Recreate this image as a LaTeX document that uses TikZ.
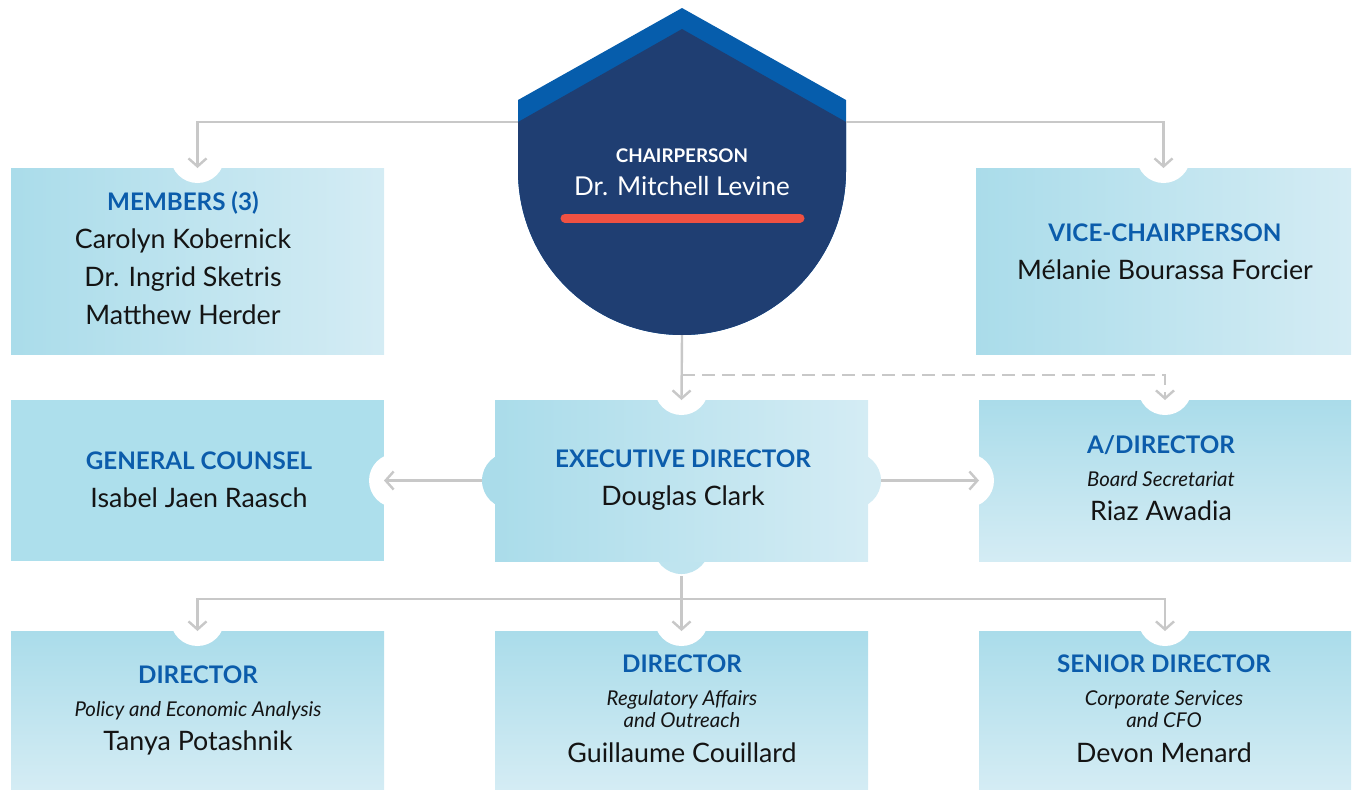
\documentclass[tikz,border=0pt]{standalone}
\usepackage{fontspec}
\setmainfont{Lato}
\usetikzlibrary{positioning, arrows.meta, calc, backgrounds}

\definecolor{boardnavy}{HTML}{1F3E72}
\definecolor{boardblue}{HTML}{065DAC}
\definecolor{accentred}{HTML}{EF5142}
\definecolor{paleblue}{HTML}{D4ECF4}
\definecolor{skyblue}{HTML}{AADCEA}
\definecolor{counselblue}{HTML}{ADDFEC}
\definecolor{linkgray}{HTML}{C8C8C8}
\definecolor{titleblue}{HTML}{0B5CAB}

\newcommand{\roletitle}[1]{{\bfseries\color{titleblue}\fontsize{12.1}{14}\selectfont #1}}
\newcommand{\roleunit}[1]{{\itshape\fontsize{10.2}{12}\selectfont #1}}

\tikzset{
  panel/.style={minimum width=186.5pt, inner sep=0pt, outer sep=0pt},
  across/.style={panel, left color=skyblue, right color=paleblue},
  downward/.style={panel, top color=skyblue, bottom color=paleblue},
  caption/.style={align=center, font=\fontsize{13.4}{19}\selectfont, text=black!92},
  link/.style={draw=linkgray, line width=1.2pt, -{Straight Barb[length=4pt,width=9pt]}},
}

\begin{document}
\begin{tikzpicture}[x=0.5pt, y=0.5pt]
    \useasboundingbox (0,0) rectangle (1353,-789);

    % Chairperson crest
    \fill[boardblue] (518,-100) -- (682,-8) -- (846,-100) -- (846,-171)
        arc[start angle=0, end angle=-180, radius=82pt] -- cycle;
    \fill[boardnavy] (518,-122) -- (682,-29) -- (846,-122) -- (846,-171)
        arc[start angle=0, end angle=-180, radius=82pt] -- cycle;
    \draw[accentred, line width=4.5pt, line cap=round] (565,-218) -- (800,-218);
    \node[align=center, text=white, font=\fontsize{13}{16.5}\selectfont] (chair) at (682,-172)
        {{\bfseries\fontsize{9.4}{11}\selectfont CHAIRPERSON}\\Dr. Mitchell Levine};

    \coordinate (chair-w) at (518,-122);
    \coordinate (chair-e) at (846,-122);
    \coordinate (chair-s) at (682,-335);
    \coordinate (split) at (682,-375);
    \coordinate (bus) at (682,-599);

    % Boxes
    \node[across, minimum height=93pt] (members) at (197.5,-261) {};
    \node[across, minimum height=93pt, minimum width=187.5pt] (vice) at (1163.5,-261) {};
    \node[panel, fill=counselblue, minimum height=80.5pt] (counsel) at (197.5,-480.5) {};
    \node[across, minimum height=80.5pt] (exec) at (681.5,-480.5) {};
    \node[downward, minimum height=80.5pt, minimum width=186pt] (secretary) at (1165,-480.5) {};
    \node[downward, minimum height=79pt] (policy) at (197.5,-710) {};
    \node[downward, minimum height=79pt] (regulatory) at (681.5,-710) {};
    \node[downward, minimum height=79pt, minimum width=186pt] (corporate) at (1165,-710) {};

    % Bumps on the executive box
    \begin{scope}[on background layer]
        \fill[skyblue] ($(exec.west)!7.5pt!(exec.center)$) circle (14pt);
        \fill[paleblue] ($(exec.east)!7.5pt!(exec.center)$) circle (14pt);
        \fill[skyblue!50!paleblue] ($(exec.south)!7.5pt!(exec.center)$) circle (14pt);
    \end{scope}

    % Notches where the arrows come in
    \foreach \n/\a in {members/north, vice/north, exec/north, secretary/north, secretary/west,
                       counsel/east, policy/north, regulatory/north, corporate/north}
        \fill[white] ($(\n.\a)!-6pt!(\n.center)$) circle (13.5pt);

    % Connectors
    \draw[link] (chair-w) -| (members.north);
    \draw[link] (chair-e) -| (vice.north);
    \draw[link] (chair-s) -- (exec.north);
    \draw[link, dash pattern=on 6.5pt off 3.5pt] (split) -| (secretary.north);
    \draw[link, shorten <=6.5pt] (exec.west) -- (counsel.east);
    \draw[link, shorten <=6.5pt] (exec.east) -- (secretary.west);
    \draw[link, shorten <=7.5pt] (exec.south) -- (regulatory.north);
    \draw[link] (bus) -| (policy.north);
    \draw[link] (bus) -| (corporate.north);

    % Texts
    \node[caption] (members-txt) at (183,-258)
        {\roletitle{MEMBERS (3)}\\Carolyn Kobernick\\Dr. Ingrid Sketris\\Matthew Herder};
    \node[caption] (vice-txt) at (1165,-252)
        {\roletitle{VICE-CHAIRPERSON}\\Mélanie Bourassa Forcier};
    \node[caption] (counsel-txt) at (199,-480)
        {\roletitle{GENERAL COUNSEL}\\Isabel Jaen Raasch};
    \node[caption] (exec-txt) at (683,-480)
        {\roletitle{EXECUTIVE DIRECTOR}\\Douglas Clark};
    \node[caption] (secretary-txt) at (1161,-478)
        {\roletitle{A/DIRECTOR}\\[-2.5pt]\roleunit{Board Secretariat}\\[-2pt]Riaz Awadia};
    \node[caption] (policy-txt) at (198,-710)
        {\roletitle{DIRECTOR}\\[-2.5pt]\roleunit{Policy and Economic Analysis}\\[-2pt]Tanya Potashnik};
    \node[caption] (regulatory-txt) at (682,-709)
        {\roletitle{DIRECTOR}\\[-2.5pt]\roleunit{Regulatory Affairs}\\[-8pt]\roleunit{and Outreach}\\[-1.5pt]Guillaume Couillard};
    \node[caption] (corporate-txt) at (1164,-709)
        {\roletitle{SENIOR DIRECTOR}\\[-2.5pt]\roleunit{Corporate Services}\\[-8pt]\roleunit{and CFO}\\[-1.5pt]Devon Menard};
\end{tikzpicture}
\end{document}
